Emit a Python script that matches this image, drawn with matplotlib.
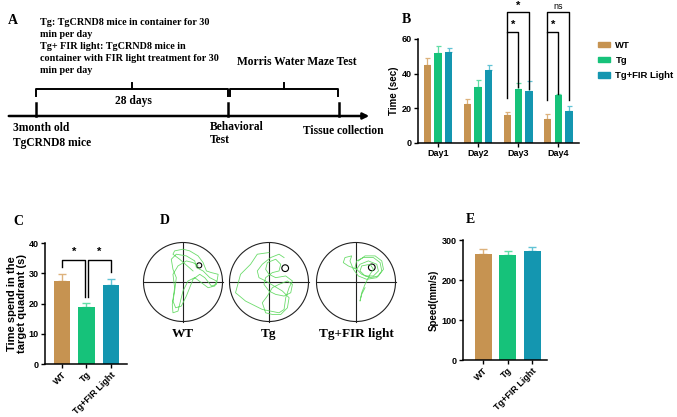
import numpy as np
import matplotlib
matplotlib.use('Agg')
import matplotlib.pyplot as plt
from matplotlib.patches import Circle, Patch

plt.rcParams['font.family'] = ['Liberation Sans', 'DejaVu Sans']
plt.rcParams['font.weight'] = 'bold'
plt.rcParams['axes.labelweight'] = 'bold'

# ---- data ----
groups = ['WT', 'Tg', 'Tg+FIR Light']
colors = ['#C69351', '#16C27A', '#1496B0']
errcolors = ['#DDB27C', '#62DDA6', '#62C3D5']

days = ['Day1', 'Day2', 'Day3', 'Day4']
latency = {'WT': [45, 22.5, 16, 14],
           'Tg': [52, 32.5, 31, 27.5],
           'Tg+FIR Light': [52.5, 42, 30, 18.5]}
latency_err = {'WT': [4, 3, 2, 3],
               'Tg': [4, 4, 3.5, 1],
               'Tg+FIR Light': [2.5, 3, 5.5, 3]}

quadrant_time = [27.3, 18.8, 26.1]
quadrant_err = [2.4, 1.3, 2.0]

speed = [265, 262, 273]
speed_err = [13, 10, 10]

# swim paths (pixel grid of each pool, y down)
wt_path = np.array([(160,100),(120,65),(100,50),(105,40),(130,35),(150,40),(175,55),(190,75),(200,100),
    (215,105),(235,110),(230,140),(215,145),(195,120),(180,110),(160,125),(150,150),(140,175),(125,205),
    (108,210),(100,190),(105,160),(110,120),(100,95),(95,65),(110,50),(140,55),(165,70),(170,90),(190,100),
    (210,120),(230,130),(225,145),(205,150),(185,135),(165,120),(145,130),(130,160),(120,200),(115,220),
    (100,225),(98,200),(105,150),(100,110),(115,85),(140,70),(160,75),(175,85)])
tg_path = np.array([(130,45),(95,50),(75,80),(45,110),(30,165),(60,190),(110,215),(160,225),(175,215),
    (180,180),(190,150),(200,130),(180,115),(150,120),(130,110),(120,95),(125,75),(150,65),(165,80),
    (160,100),(140,105),(120,120),(115,140),(130,160),(150,170),(175,175),(195,165),(200,140),(185,130),
    (160,140),(140,150),(125,175),(110,195),(120,225),(140,230),(165,230),(185,210),(190,180),(170,160),
    (145,145),(120,130),(100,120),(95,100),(110,80),(135,60),(160,50),(175,60)])
fir_path = np.array([(140,70),(160,55),(190,55),(210,70),(215,95),(200,115),(175,120),(150,110),(130,90),
    (135,70),(155,60),(185,60),(205,75),(210,100),(195,120),(165,125),(140,115),(125,95),(115,70),(120,55),
    (100,60),(95,75),(110,85),(135,95),(145,80),(170,70),(195,80),(200,100),(185,115),(160,115),(145,100),
    (150,85),(175,80),(185,95),(175,110),(160,140),(150,165),(145,190),(150,170),(160,150)])
path_centers = [(130, 133), (130, 133), (133, 133)]
paths = [wt_path, tg_path, fir_path]
platforms = [(0.41, 0.42, 0.065), (0.41, 0.35, 0.085), (0.40, 0.37, 0.085)]
pool_labels = ['WT', 'Tg', 'Tg+FIR light']

fig = plt.figure(figsize=(6.77, 4.17), dpi=100)
W, H = 677.0, 417.0

def px_axes(l, t, r, b):
    return fig.add_axes([l / W, 1 - b / H, (r - l) / W, (b - t) / H])

# overlay in pixel coordinates for panel A, D and letters
ov = fig.add_axes([0, 0, 1, 1])
ov.set_xlim(0, W)
ov.set_ylim(H, 0)
ov.axis('off')
serif = ['Liberation Serif', 'DejaVu Serif']

for letter, x, y in [('A', 8, 20), ('B', 402, 19), ('C', 13, 221), ('D', 160, 220), ('E', 466, 219)]:
    ov.text(x, y, letter, family=serif, fontsize=10, fontweight='bold', va='center')

# ---- panel A timeline ----
lines_a = ['Tg: TgCRND8 mice in container for 30', 'min per day', 'Tg+ FIR light: TgCRND8 mice in',
           'container with FIR light treatment for 30', 'min per day']
for i, s in enumerate(lines_a):
    ov.text(40, 22 + 12 * i, s, family=serif, fontsize=7.3, fontweight='bold', va='center')
ov.annotate('', xy=(372, 116), xytext=(6, 116),
            arrowprops=dict(arrowstyle='-|>', lw=1.8, color='black', mutation_scale=9))
for xt in [36, 228, 339]:
    ov.plot([xt, xt], [116, 103], color='black', lw=1.8)
for x1, x2 in [(36, 228), (230, 338)]:
    ov.plot([x1, x1, x2, x2], [96, 89, 89, 96], color='black', lw=1.4)
    ov.plot([(x1 + x2) / 2] * 2, [89, 83], color='black', lw=1.4)
ov.text(133, 101, '28 days', family=serif, fontsize=8.3, fontweight='bold', ha='center', va='center')
ov.text(237, 62, 'Morris Water Maze Test', family=serif, fontsize=8.3, fontweight='bold', va='center')
ov.text(13, 128, '3month old', family=serif, fontsize=8.3, fontweight='bold', va='center')
ov.text(13, 143, 'TgCRND8 mice', family=serif, fontsize=8.3, fontweight='bold', va='center')
ov.text(210, 127, 'Behavioral', family=serif, fontsize=8.3, fontweight='bold', va='center')
ov.text(210, 140, 'Test', family=serif, fontsize=8.3, fontweight='bold', va='center')
ov.text(303, 131, 'Tissue collection', family=serif, fontsize=8.3, fontweight='bold', va='center')

# ---- panel D pools ----
centers = [183, 269, 356]
cy, R = 282, 39.5
for k, cx in enumerate(centers):
    ov.add_patch(Circle((cx, cy), R, fill=False, ec='#222222', lw=0.8))
    ov.plot([cx - R, cx + R], [cy, cy], color='#222222', lw=0.8)
    ov.plot([cx, cx], [cy - R, cy + R], color='#222222', lw=0.8)
    p = paths[k]
    zx, zy = path_centers[k]
    ov.plot(cx + R * (p[:, 0] - zx) / 118.0, cy + R * (p[:, 1] - zy) / 118.0,
            color='#5CD85C', lw=0.6, alpha=0.9)
    px, py, pr = platforms[k]
    ov.add_patch(Circle((cx + R * px, cy - R * py), R * pr, fill=False, ec='black', lw=0.8))
    ov.text(cx, 334, pool_labels[k], family=serif, fontsize=9.5, fontweight='bold', ha='center', va='center')

def style(ax):
    for s in ['top', 'right']:
        ax.spines[s].set_visible(False)
    for s in ['left', 'bottom']:
        ax.spines[s].set_linewidth(1.1)
    ax.tick_params(width=1.0, length=3, pad=1.5)
    ax.patch.set_alpha(0)

def bracket(ax, x1, x2, y, y1, y2, label, ty):
    ax.plot([x1, x1, x2, x2], [y1, y, y, y2], color='black', lw=1.0, clip_on=False)
    ax.text((x1 + x2) / 2, ty, label, ha='center', va='center', fontsize=8 if label == '*' else 6.5,
            fontweight='bold' if label == '*' else 'normal', clip_on=False)

# ---- panel B ----
axB = px_axes(418, 39, 579, 143)
off = 0.27
xd = np.arange(len(days))
for i, g in enumerate(groups):
    xs = xd + (i - 1) * off
    axB.bar(xs, latency[g], width=0.18, color=colors[i], label=g, zorder=2)
    axB.errorbar(xs, latency[g], yerr=[np.zeros(4), latency_err[g]], fmt='none', ecolor=errcolors[i],
                 elinewidth=0.9, capsize=1.8, capthick=0.9, zorder=1)
axB.set_xlim(-0.5, 3.52)
axB.set_ylim(0, 60)
axB.set_yticks([0, 20, 40, 60])
axB.set_xticks(xd)
axB.set_xticklabels(days)
axB.set_ylabel('Time (sec)', fontsize=7, labelpad=2)
axB.tick_params(labelsize=6.5)
style(axB)
bracket(axB, 2 - off, 2, 64, 26, 32.3, '*', 68)
bracket(axB, 2 - off, 2 + off, 75.6, 64, 31, '*', 79)
bracket(axB, 3 - off, 3, 64, 24.8, 28.3, '*', 68)
bracket(axB, 3 - off, 3 + off, 75.6, 64, 24.8, 'ns', 79)
handles = [Patch(color=c) for c in colors]
axB.legend(handles, groups, loc='upper left', bbox_to_anchor=(598 / W, 1 - 41 / H),
           bbox_transform=fig.transFigure, frameon=False, fontsize=6.8, handlelength=1.3,
           handleheight=0.5, handletextpad=0.55, labelspacing=0.65, borderpad=0, borderaxespad=0)

# ---- panel C ----
axC = px_axes(45, 243, 127, 364)
xg = np.arange(3)
axC.bar(xg, quadrant_time, width=0.67, color=colors, zorder=2)
for i in range(3):
    axC.errorbar(xg[i], quadrant_time[i], yerr=[[0], [quadrant_err[i]]], fmt='none', ecolor=errcolors[i],
                 elinewidth=1.0, capsize=3, capthick=1.0, zorder=1)
axC.set_xlim(-0.71, 2.67)
axC.set_ylim(0, 40)
axC.set_yticks([0, 10, 20, 30, 40])
axC.set_xticks(xg)
axC.set_xticklabels(groups, rotation=45, ha='right', rotation_mode='anchor')
axC.set_ylabel('Time spend in the\ntarget quadrant (s)', fontsize=8, linespacing=1.0)
axC.yaxis.set_label_coords(-0.22, 0.5)
axC.tick_params(labelsize=6.5)
style(axC)
bracket(axC, 0, 0.95, 34.3, 32, 22, '*', 37)
bracket(axC, 1.05, 2, 34.3, 22, 30.4, '*', 37)

# ---- panel E ----
axE = px_axes(463, 240, 547, 360)
axE.bar(xg, speed, width=0.69, color=colors, zorder=2)
for i in range(3):
    axE.errorbar(xg[i], speed[i], yerr=[[0], [speed_err[i]]], fmt='none', ecolor=errcolors[i],
                 elinewidth=1.0, capsize=3, capthick=1.0, zorder=1)
axE.set_xlim(-0.82, 2.6)
axE.set_ylim(0, 300)
axE.set_yticks([0, 100, 200, 300])
axE.set_xticks(xg)
axE.set_xticklabels(groups, rotation=45, ha='right', rotation_mode='anchor')
axE.set_ylabel('Speed(mm/s)', fontsize=7, labelpad=2)
axE.tick_params(labelsize=6.5)
style(axE)

fig.savefig('out.png', dpi=100)
